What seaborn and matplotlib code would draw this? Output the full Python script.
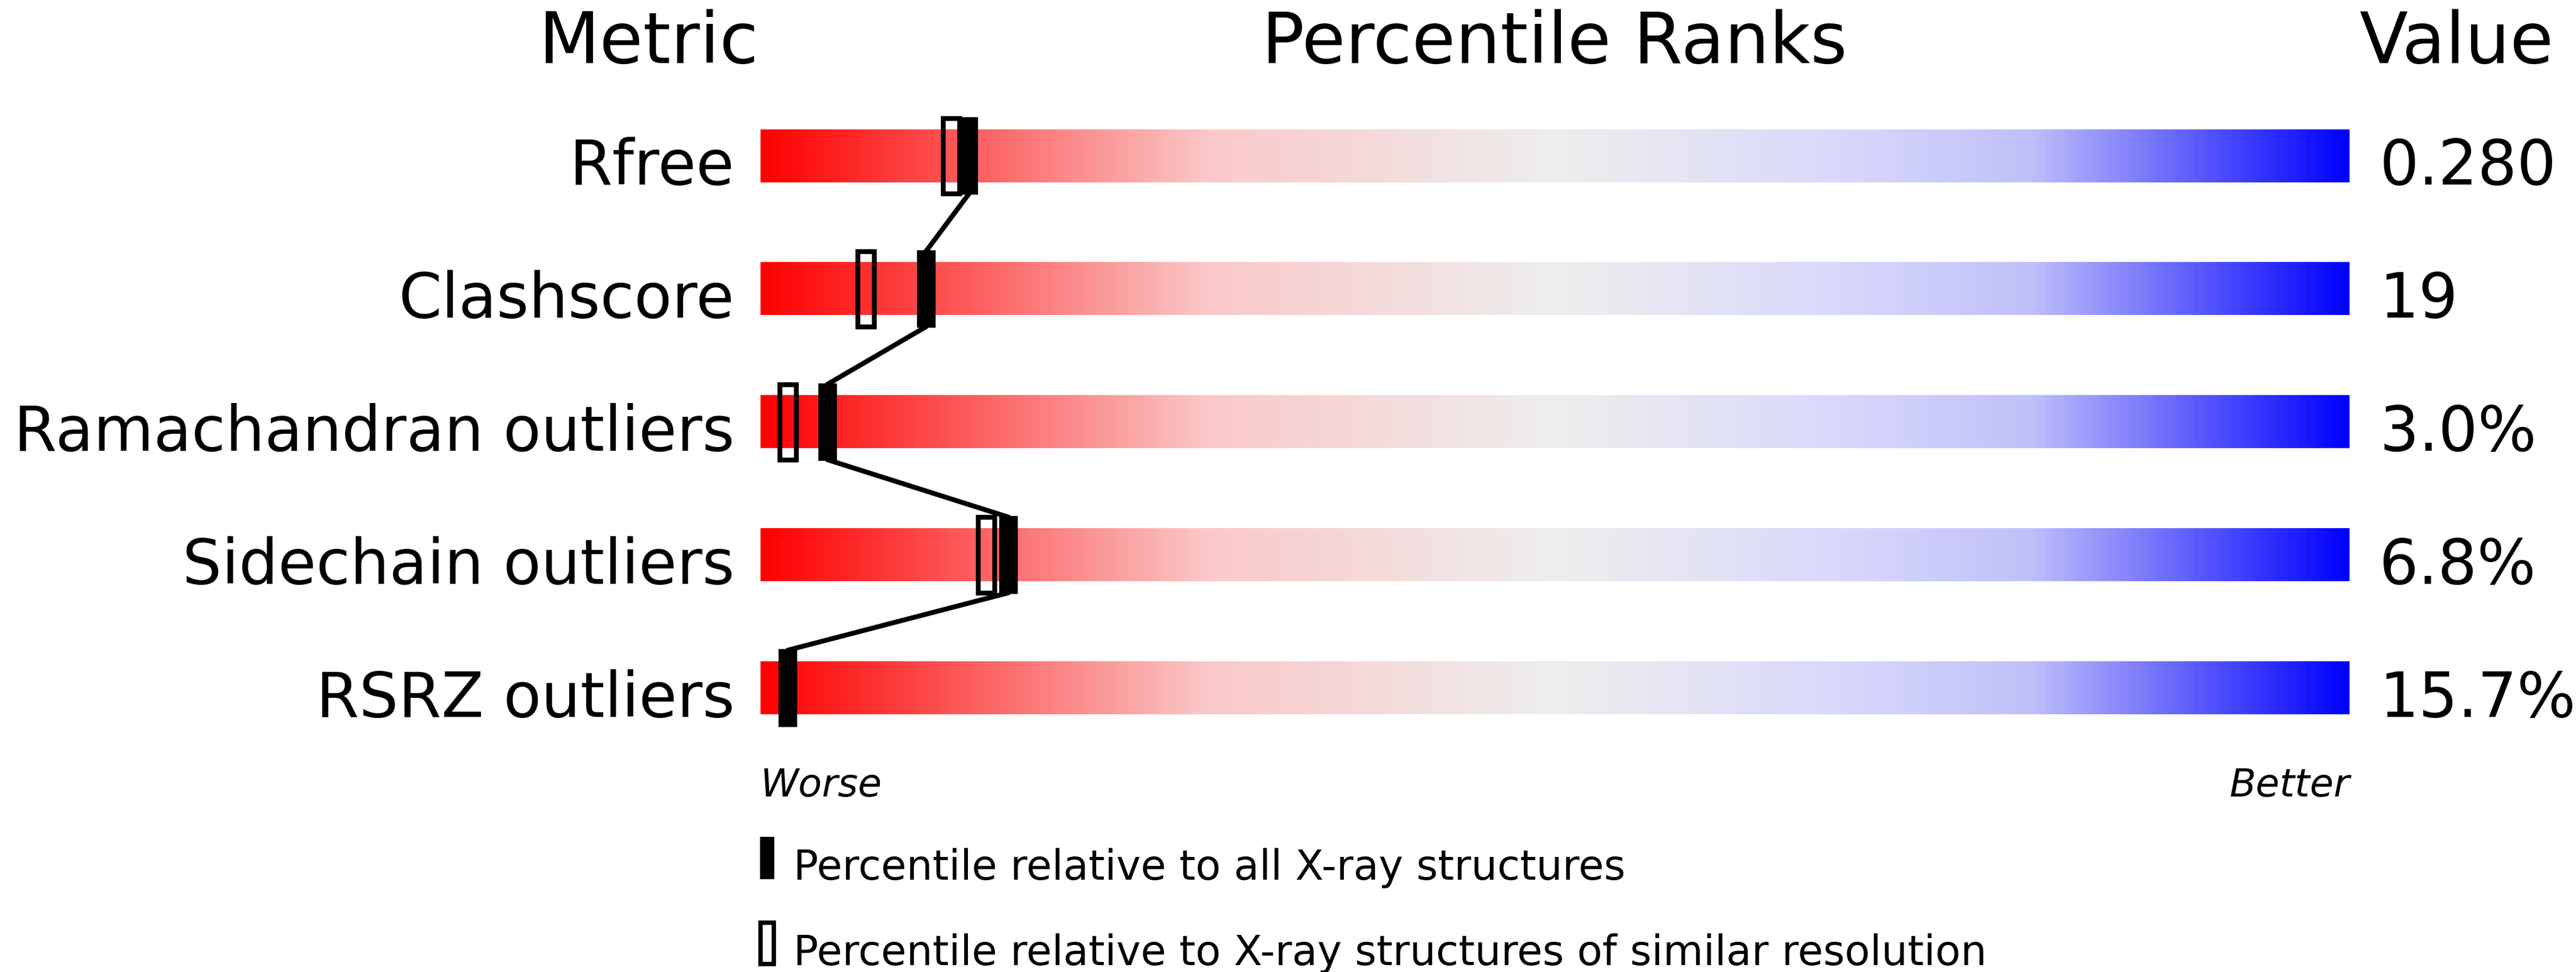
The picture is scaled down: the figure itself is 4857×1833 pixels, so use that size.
import numpy as np
import pandas as pd
import matplotlib
matplotlib.use("Agg")
import matplotlib.pyplot as plt
from matplotlib.colors import LinearSegmentedColormap
from matplotlib.patches import Rectangle
import seaborn as sns

metrics = ["Rfree", "Clashscore", "Ramachandran outliers", "Sidechain outliers", "RSRZ outliers"]
values = ["0.280", "19", "3.0%", "6.8%", "15.7%"]
pct_all = [13.1, 10.4, 4.2, 15.6, 1.7]
pct_res = [12.0, 6.6, 1.7, 14.2, None]

sns.set_style("white")
plt.rcParams['font.family'] = ['DejaVu Sans']
plt.rcParams['text.color'] = 'black'

W, H = 1568.0, 592.0
fig = plt.figure(figsize=(4858/300, 1833/300), dpi=300)
x0, x1 = 463, 1430
ax = fig.add_axes([x0/W, 0, (x1-x0)/W, 1])
ax.set_xlim(0, 100)
ax.set_ylim(H, 0)

cmap = LinearSegmentedColormap.from_list("pr", [
    (0.0, "#ff0000"), (0.28, "#fbc8c8"), (0.5, "#eeeeee"),
    (0.68, "#d8d8fc"), (0.8, "#c0c0fa"), (1.0, "#0000ff")])
grad = np.linspace(0, 1, 512).reshape(1, -1)
ys = [95, 176, 257, 338, 419]
bh = 32
unit = 100/(x1-x0)
for y in ys:
    ax.imshow(grad, cmap=cmap, aspect="auto", extent=(0, 100, y+bh/2, y-bh/2), zorder=1)

mw = 10*unit
mh = 46
for y, pa, pr in zip(ys, pct_all, pct_res):
    if pr is not None:
        ax.add_patch(Rectangle((pr-mw/2, y-mh/2), mw, mh, facecolor="none",
                               edgecolor="black", lw=2.2, zorder=3))
    ax.add_patch(Rectangle((pa-mw/2, y-mh/2), mw, mh, facecolor="black",
                           edgecolor="black", lw=1, zorder=4))

lx, ly = [], []
for i in range(len(ys)-1):
    lx += [pct_all[i], pct_all[i+1]]
    ly += [ys[i]+mh/2, ys[i+1]-mh/2]
line_df = pd.DataFrame({"x": lx, "y": ly, "seg": np.repeat(range(len(ys)-1), 2)})
for s, g in line_df.groupby("seg"):
    sns.lineplot(data=g, x="x", y="y", sort=False, color="black", lw=2.2, ax=ax, zorder=2)
ax.set_xlim(0, 100)
ax.set_ylim(H, 0)
ax.set_xlabel(""); ax.set_ylabel("")
ax.axis("off")

def px(x):
    return (x - x0) * unit

for y, m, v in zip(ys, metrics, values):
    ax.text(px(447), y+3, m, ha="right", va="center_baseline", fontsize=28, clip_on=False)
    ax.text(px(1448), y+3, v, ha="left", va="center_baseline", fontsize=28, clip_on=False)

for xc, t in [(395, "Metric"), (946, "Percentile Ranks"), (1495, "Value")]:
    ax.text(px(xc), 22, t, ha="center", va="center_baseline", fontsize=32, clip_on=False)
ax.text(0, 476, "Worse", ha="left", va="center_baseline", fontsize=17.5, style="italic", clip_on=False)
ax.text(100, 476, "Better", ha="right", va="center_baseline", fontsize=17.5, style="italic", clip_on=False)

ax.add_patch(Rectangle((px(462), 509), 10*unit, 27, facecolor="black", clip_on=False))
ax.add_patch(Rectangle((px(463), 562), 8*unit, 25, facecolor="none", edgecolor="black", lw=2, clip_on=False))
ax.text(px(483), 526, "Percentile relative to all X-ray structures", ha="left", va="center_baseline", fontsize=18.7, clip_on=False)
ax.text(px(483), 578, "Percentile relative to X-ray structures of similar resolution", ha="left", va="center_baseline", fontsize=18.7, clip_on=False)

fig.savefig("out.png", dpi=300, facecolor="white")
